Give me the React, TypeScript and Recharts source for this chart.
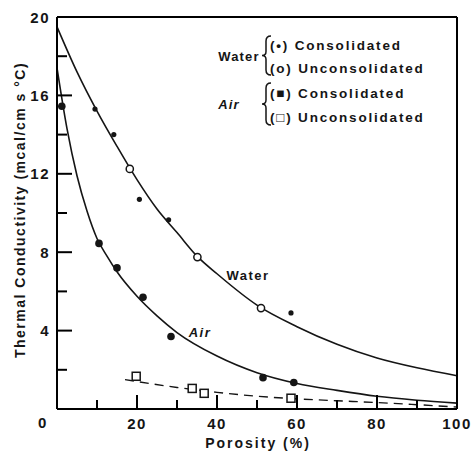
import React from 'react';
import { ComposedChart, Line, Scatter, XAxis, YAxis } from 'recharts';

// measured points
const waterConsX = [9.5, 14.2, 20.6, 27.9, 58.5];
const waterConsY = [15.3, 14.0, 10.7, 9.65, 4.9];
const waterUnconsX = [18.2, 35.1, 51.0];
const waterUnconsY = [12.25, 7.75, 5.15];
const airConsX = [1.2, 10.5, 15.0, 21.5, 28.5, 51.5, 59.2];
const airConsY = [15.45, 8.45, 7.2, 5.7, 3.7, 1.6, 1.35];
const airUnconsX = [19.8, 33.8, 36.8, 58.5];
const airUnconsY = [1.67, 1.05, 0.8, 0.55];

// fitted curves as drawn on the figure
const waterCurveX = [0, 5, 10, 15, 20, 25, 30, 35, 40, 50, 60, 70, 80, 90, 100];
const waterCurveY = [19.5, 17.2, 15.2, 13.4, 11.7, 10.2, 9.0, 7.8, 6.9, 5.3, 4.2, 3.3, 2.6, 2.1, 1.7];
const airCurveX = [0, 2.5, 5, 7.5, 10, 12.5, 15, 20, 25, 30, 40, 50, 60, 70, 80, 90, 100];
const airCurveY = [17.4, 14.3, 11.9, 10.1, 8.7, 7.8, 7.0, 5.75, 4.75, 3.9, 2.7, 1.85, 1.3, 0.95, 0.65, 0.45, 0.3];
const airDashX = [17, 20, 30, 40, 50, 60, 70, 80, 90, 100];
const airDashY = [1.5, 1.4, 1.1, 0.85, 0.65, 0.52, 0.42, 0.33, 0.22, 0.1];

const xTicks = [0, 10, 20, 30, 40, 50, 60, 70, 80, 90, 100];
const yTicks = [0, 2, 4, 6, 8, 10, 12, 14, 16, 18, 20];

const zip = (xs: number[], ys: number[]) => xs.map((x, i) => ({ x, y: ys[i] }));

const W = 473;
const H = 451;
const MARGIN = { top: 16, right: 15, left: 12, bottom: 12 };

const INK = '#151515';
const AXIS = '#000000';
const FONT = '"Liberation Sans", Arial, sans-serif';

// inward ticks; x/y arrive at the axis line because tickSize and tickMargin are 0
const BottomTick = (props: any) => {
  const { x, y, payload } = props;
  const v = Number(payload.value);
  const major = v % 20 === 0;
  return (
    <g>
      {v > 0 && v < 100 && (
        <line x1={x} y1={y} x2={x} y2={y - (major ? 14 : 9)} stroke={AXIS} strokeWidth={2} />
      )}
      {major && v > 0 && (
        <text x={x} y={y + 14} textAnchor="middle" dominantBaseline="central" fill={INK}
          fontFamily={FONT} fontWeight="bold" fontSize={15} letterSpacing={1.5}>{v}</text>
      )}
    </g>
  );
};

const TopTick = (props: any) => {
  const { x, y, payload } = props;
  const v = Number(payload.value);
  if (v <= 0 || v >= 100) return <g />;
  const major = v % 20 === 0;
  return <line x1={x} y1={y} x2={x} y2={y + (major ? 14 : 10)} stroke={AXIS} strokeWidth={2} />;
};

const LeftTick = (props: any) => {
  const { x, y, payload } = props;
  const v = Number(payload.value);
  const major = v % 4 === 0;
  return (
    <g>
      {v > 0 && v < 20 && (
        <line x1={x} y1={y} x2={x + (major ? 15 : 10)} y2={y} stroke={AXIS} strokeWidth={2} />
      )}
      {major && v > 0 && (
        <text x={x - 7} y={y} textAnchor="end" dominantBaseline="central" fill={INK}
          fontFamily={FONT} fontWeight="bold" fontSize={15} letterSpacing={1.5}>{v}</text>
      )}
    </g>
  );
};

const RightTick = (props: any) => {
  const { x, y, payload } = props;
  const v = Number(payload.value);
  if (v <= 0 || v >= 20) return <g />;
  const major = v % 4 === 0;
  return <line x1={x} y1={y} x2={x - (major ? 14 : 9)} y2={y} stroke={AXIS} strokeWidth={2} />;
};

const SmallDot = (p: any) => <circle cx={p.cx} cy={p.cy} r={2.6} fill={INK} />;
const BigDot = (p: any) => <circle cx={p.cx} cy={p.cy} r={3.8} fill={INK} />;
const OpenDot = (p: any) => <circle cx={p.cx} cy={p.cy} r={3.6} fill="#fff" stroke={INK} strokeWidth={1.5} />;
const OpenSquare = (p: any) => (
  <rect x={p.cx - 4} y={p.cy - 4} width={8} height={8} fill="#fff" stroke={INK} strokeWidth={1.5} />
);

const txt = {
  fontFamily: FONT,
  fontWeight: 'bold' as const,
  fill: INK,
};

const brace = (x: number, y1: number, y2: number) => {
  const m = (y1 + y2) / 2;
  return `M ${x + 5} ${y1} Q ${x} ${y1} ${x} ${y1 + 5} L ${x} ${m - 4} Q ${x} ${m} ${x - 4} ${m} Q ${x} ${m} ${x} ${m + 4} L ${x} ${y2 - 5} Q ${x} ${y2} ${x + 5} ${y2}`;
};

const axisLine = { stroke: AXIS, strokeWidth: 2 };

export default function App() {
  return (
    <div style={{ position: 'absolute', left: 0, top: 0, width: W, height: H, background: '#fff' }}>
      <ComposedChart width={W} height={H} margin={MARGIN}>
        <XAxis dataKey="x" type="number" domain={[0, 100]} ticks={xTicks} interval={0}
          height={30} tickSize={0} tickMargin={0} tickLine={false} axisLine={axisLine} tick={<BottomTick />} />
        <XAxis xAxisId="top" orientation="top" dataKey="x" type="number" domain={[0, 100]} ticks={xTicks}
          interval={0} height={1} tickSize={0} tickMargin={0} tickLine={false} axisLine={axisLine} tick={<TopTick />} />
        <YAxis dataKey="y" type="number" domain={[0, 20]} ticks={yTicks} interval={0}
          width={45} tickSize={0} tickMargin={0} tickLine={false} axisLine={axisLine} tick={<LeftTick />} />
        <YAxis yAxisId="right" orientation="right" dataKey="y" type="number" domain={[0, 20]} ticks={yTicks}
          interval={0} width={1} tickSize={0} tickMargin={0} tickLine={false} axisLine={axisLine} tick={<RightTick />} />

        <Line data={zip(waterCurveX, waterCurveY)} dataKey="y" type="monotone" stroke={INK}
          strokeWidth={1.6} dot={false} isAnimationActive={false} />
        <Line data={zip(airCurveX, airCurveY)} dataKey="y" type="monotone" stroke={INK}
          strokeWidth={1.6} dot={false} isAnimationActive={false} />
        <Line data={zip(airDashX, airDashY)} dataKey="y" type="monotone" stroke={INK}
          strokeWidth={1.4} strokeDasharray="9 6" dot={false} isAnimationActive={false} />

        <Scatter data={zip(waterConsX, waterConsY)} shape={SmallDot} isAnimationActive={false} />
        <Scatter data={zip(waterUnconsX, waterUnconsY)} shape={OpenDot} isAnimationActive={false} />
        <Scatter data={zip(airConsX, airConsY)} shape={BigDot} isAnimationActive={false} />
        <Scatter data={zip(airUnconsX, airUnconsY)} shape={OpenSquare} isAnimationActive={false} />
      </ComposedChart>

      <svg width={W} height={H} style={{ position: 'absolute', left: 0, top: 0, pointerEvents: 'none' }}>
        <text x={43} y={422} textAnchor="middle" dominantBaseline="central" fontSize={15} letterSpacing={1.5} {...txt}>0</text>
        <text x={258} y={443} textAnchor="middle" dominantBaseline="central" fontSize={14} letterSpacing={2} {...txt}>
          Porosity (%)
        </text>
        <text x={20} y={210} textAnchor="middle" dominantBaseline="central" fontSize={14} letterSpacing={1.5}
          transform="rotate(-90 20 210)" {...txt}>
          Thermal Conductivity (mcal/cm s °C)
        </text>

        <text x={248} y={275} textAnchor="middle" dominantBaseline="central" fontSize={13} letterSpacing={1.5} {...txt}>Water</text>
        <text x={200} y={332} textAnchor="middle" dominantBaseline="central" fontSize={13} letterSpacing={1.5}
          fontStyle="italic" {...txt}>Air</text>

        <text x={239} y={56} textAnchor="middle" dominantBaseline="central" fontSize={13} letterSpacing={1.2} {...txt}>Water</text>
        <path d={brace(266, 36, 75)} fill="none" stroke={INK} strokeWidth={1.5} />
        <text x={270} y={45} dominantBaseline="central" fontSize={13.5} letterSpacing={1.8} {...txt}>(•) Consolidated</text>
        <text x={270} y={68} dominantBaseline="central" fontSize={13.5} letterSpacing={1.8} {...txt}>(o) Unconsolidated</text>

        <text x={229} y={104} textAnchor="middle" dominantBaseline="central" fontSize={13} letterSpacing={1.2}
          fontStyle="italic" {...txt}>Air</text>
        <path d={brace(266, 83, 125)} fill="none" stroke={INK} strokeWidth={1.5} />
        <text x={270} y={93} dominantBaseline="central" fontSize={13.5} letterSpacing={1.8} {...txt}>(■) Consolidated</text>
        <text x={270} y={117} dominantBaseline="central" fontSize={13.5} letterSpacing={1.8} {...txt}>(□) Unconsolidated</text>
      </svg>
    </div>
  );
}
